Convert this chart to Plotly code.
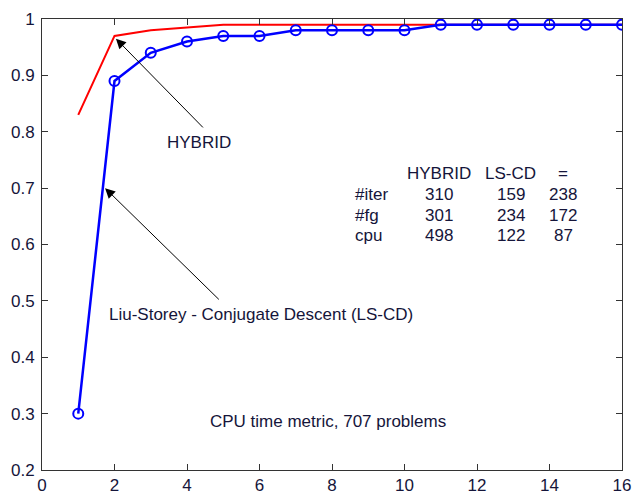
import plotly.graph_objects as go

# ---- data ----
x_vals = list(range(1, 17))
hybrid = [0.83, 0.97, 0.98, 0.985, 0.99, 0.99, 0.99, 0.99, 0.99, 0.99, 0.99,
          0.99, 0.99, 0.99, 0.99, 0.99]
lscd = [0.30, 0.89, 0.94, 0.96, 0.97, 0.97, 0.98, 0.98, 0.98, 0.98, 0.99,
        0.99, 0.99, 0.99, 0.99, 0.99]

table_cols = ["HYBRID", "LS-CD", "="]
table_rows = ["#iter", "#fg", "cpu"]
table_vals = [[310, 159, 238], [301, 234, 172], [498, 122, 87]]

x_ticks = list(range(0, 17, 2))
y_ticks = [0.2, 0.3, 0.4, 0.5, 0.6, 0.7, 0.8, 0.9, 1]

FONT = "Arial, Liberation Sans, sans-serif"
TXT = "#15153a"
FS = 17

fig = go.Figure()
fig.add_trace(go.Scatter(x=x_vals, y=hybrid, mode="lines",
                         line=dict(color="#ff0000", width=2), showlegend=False))
fig.add_trace(go.Scatter(x=x_vals, y=lscd, mode="lines+markers",
                         line=dict(color="#0000ff", width=2.5),
                         marker=dict(symbol="circle-open", size=10, color="#0000ff",
                                     line=dict(width=2, color="#0000ff")),
                         showlegend=False))

ann = []
# arrows (empty text)
ann.append(dict(x=2.04, y=0.965, ax=4.48, ay=0.805, xref="x", yref="y", axref="x", ayref="y",
                text="", showarrow=True, arrowhead=2, arrowsize=2, arrowwidth=1, arrowcolor="black"))
ann.append(dict(x=1.74, y=0.70, ax=4.92, ay=0.50, xref="x", yref="y", axref="x", ayref="y",
                text="", showarrow=True, arrowhead=2, arrowsize=2, arrowwidth=1, arrowcolor="black"))
# labels
ann.append(dict(x=4.32, y=0.781, xref="x", yref="y", text="HYBRID", showarrow=False,
                font=dict(family=FONT, size=FS, color=TXT)))
ann.append(dict(x=1.79, y=0.4765, xref="x", yref="y", xanchor="left",
                text="Liu-Storey - Conjugate Descent (LS-CD)", showarrow=False,
                font=dict(family=FONT, size=FS, color=TXT)))
ann.append(dict(x=7.88, y=0.2864, xref="x", yref="y", text="CPU time metric, 707 problems",
                showarrow=False, font=dict(family=FONT, size=FS, color=TXT)))

# table
col_x = [10.94, 12.93, 14.38]
header_y = 0.7253
row_y = [0.689, 0.6515, 0.6165]
for cx, c in zip(col_x, table_cols):
    ann.append(dict(x=cx, y=header_y, xref="x", yref="y", text=c, showarrow=False,
                    font=dict(family=FONT, size=FS, color=TXT)))
for ry, r, vals in zip(row_y, table_rows, table_vals):
    ann.append(dict(x=8.58, y=ry, xref="x", yref="y", text=r, showarrow=False, xanchor="left",
                    font=dict(family=FONT, size=FS, color=TXT)))
    for cx, v in zip(col_x, vals):
        ann.append(dict(x=cx, y=ry, xref="x", yref="y", text=str(v), showarrow=False,
                        font=dict(family=FONT, size=FS, color=TXT)))

axis_common = dict(showline=True, linecolor="#333333", linewidth=1, mirror="ticks",
                   ticks="inside", ticklen=6, tickcolor="#333333", showgrid=False,
                   zeroline=False, tickfont=dict(family=FONT, size=FS, color=TXT))

fig.update_layout(
    width=640, height=504,
    margin=dict(l=42, r=9, t=19, b=22),
    paper_bgcolor="white", plot_bgcolor="white",
    xaxis=dict(range=[0, 16], tickvals=x_ticks, ticktext=[str(t) for t in x_ticks], **axis_common),
    yaxis=dict(range=[0.2, 1], tickvals=y_ticks, ticktext=[str(t) for t in y_ticks], **axis_common),
    annotations=ann,
)
fig.update_xaxes(ticklabelstandoff=0)
fig.update_yaxes(ticklabelstandoff=3)

fig.write_html("out.html")
